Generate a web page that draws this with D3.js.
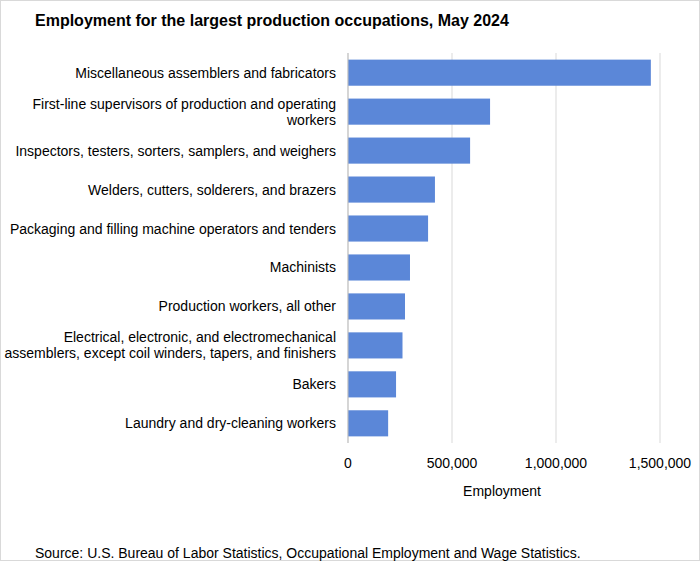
<!DOCTYPE html>
<html><head><meta charset="utf-8">
<script src="https://cdn.jsdelivr.net/npm/d3@7"></script>
<style>body{margin:0;background:#fff}svg{display:block}</style>
</head><body>
<svg id="c" width="700" height="561"></svg>
<script>
const categories = [
  ["Miscellaneous assemblers and fabricators"],
  ["First-line supervisors of production and operating","workers"],
  ["Inspectors, testers, sorters, samplers, and weighers"],
  ["Welders, cutters, solderers, and brazers"],
  ["Packaging and filling machine operators and tenders"],
  ["Machinists"],
  ["Production workers, all other"],
  ["Electrical, electronic, and electromechanical","assemblers, except coil winders, tapers, and finishers"],
  ["Bakers"],
  ["Laundry and dry-cleaning workers"]
];
const employment = [1456000, 683000, 587000, 418000, 385000, 298000, 274000, 262000, 231000, 193000];
const ticks = [0, 500000, 1000000, 1500000];

const svg = d3.select("#c");
const font = "Arial, 'Liberation Sans', sans-serif";
svg.append("rect").attr("x",0.5).attr("y",0.5).attr("width",699).attr("height",560).attr("fill","#fff").attr("stroke","#d9d9d9");
const x = d3.scaleLinear().domain([0,1500000]).range([348,660]);
const y = d3.scaleBand().domain(d3.range(categories.length)).range([53,443]).paddingInner(0.33).paddingOuter(0.17);

svg.append("g").selectAll("line").data(ticks).join("line")
  .attr("x1",d=>x(d)).attr("x2",d=>x(d)).attr("y1",53).attr("y2",443)
  .attr("stroke","#d9d9d9");
svg.append("g").selectAll("rect").data(employment).join("rect")
  .attr("x",x(0)).attr("y",(d,i)=>y(i)).attr("width",d=>x(d)-x(0)).attr("height",y.bandwidth())
  .attr("fill","#5b87d8");
svg.append("line").attr("x1",x(0)).attr("x2",x(0)).attr("y1",53).attr("y2",443).attr("stroke","#bfbfbf");

svg.append("g").selectAll("text").data(ticks).join("text")
  .attr("x",d=>x(d)).attr("y",468).attr("text-anchor","middle")
  .attr("font-family",font).attr("font-size",14).attr("fill","#000")
  .text(d=>d3.format(",")(d));

const lab = svg.append("g").selectAll("text").data(categories).join("text")
  .attr("text-anchor","end").attr("font-family",font).attr("font-size",14).attr("fill","#000");
lab.each(function(lines,i){
  const c = y(i)+y.bandwidth()/2;
  const t = d3.select(this);
  lines.forEach((l,j)=>{
    t.append("tspan").attr("x",336).attr("y",c+5+(j-(lines.length-1)/2)*16).text(l);
  });
});

svg.append("text").attr("x",35).attr("y",26).attr("font-family",font).attr("font-size",16).attr("font-weight","bold").text("Employment  for the largest production occupations, May 2024");
svg.append("text").attr("x",502).attr("y",496).attr("text-anchor","middle").attr("font-family",font).attr("font-size",14).text("Employment");
svg.append("text").attr("x",35).attr("y",558).attr("font-family",font).attr("font-size",14).text("Source: U.S. Bureau of Labor Statistics, Occupational Employment  and Wage Statistics.");
</script>
</body></html>
